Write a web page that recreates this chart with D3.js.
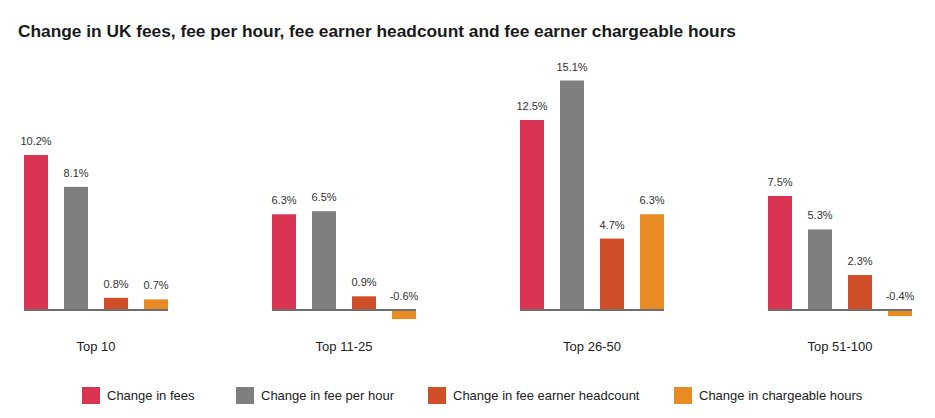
<!DOCTYPE html>
<html><head><meta charset="utf-8">
<script src="https://cdn.jsdelivr.net/npm/d3@7"></script>
<style>body{margin:0;background:#fff}svg{display:block;font-family:"Liberation Sans",Arial,sans-serif}</style>
</head><body><svg id="c" width="935" height="418"></svg>
<script>
const categories = ["Top 10", "Top 11-25", "Top 26-50", "Top 51-100"];
const seriesNames = ["Change in fees", "Change in fee per hour", "Change in fee earner headcount", "Change in chargeable hours"];
const fees = [10.2, 6.3, 12.5, 7.5];
const feePerHour = [8.1, 6.5, 15.1, 5.3];
const headcount = [0.8, 0.9, 4.7, 2.3];
const hours = [0.7, -0.6, 6.3, -0.4];
const colors = ["#D93452", "#7F7F7F", "#D04F28", "#E88B22"];
const series = [fees, feePerHour, headcount, hours];

const svg = d3.select("#c");
svg.append("text").attr("x", 18).attr("y", 37).attr("font-size", 17).attr("font-weight", "bold")
  .attr("fill", "#1a1a1a").attr("textLength", 718).attr("lengthAdjust", "spacingAndGlyphs")
  .text("Change in UK fees, fee per hour, fee earner headcount and fee earner chargeable hours");

const x0 = d3.scaleBand().domain(categories).range([24, 912]).paddingInner(104/248).paddingOuter(0);
const x1 = d3.scaleBand().domain(seriesNames).range([0, x0.bandwidth()]).paddingInner(0.4).paddingOuter(0);
const y = d3.scaleLinear().domain([0, 15.1]).range([310, 80.5]);

const g = svg.selectAll("g.grp").data(categories).join("g").attr("class", "grp")
  .attr("transform", d => `translate(${x0(d)},0)`);

g.each(function(cat, ci) {
  const gg = d3.select(this);
  const vals = seriesNames.map((s, si) => ({s, si, v: series[si][ci]}));
  gg.selectAll("rect").data(vals).join("rect")
    .attr("x", d => x1(d.s)).attr("width", x1.bandwidth())
    .attr("y", d => Math.min(y(d.v), y(0))).attr("height", d => Math.abs(y(d.v) - y(0)))
    .attr("fill", d => colors[d.si]);
  gg.append("line").attr("x1", 0).attr("x2", x0.bandwidth()).attr("y1", y(0)).attr("y2", y(0))
    .attr("stroke", "#6f6f6f").attr("stroke-width", 2);
  gg.selectAll("text.v").data(vals).join("text").attr("class", "v")
    .attr("x", d => x1(d.s) + x1.bandwidth()/2)
    .attr("y", d => (d.v >= 0 ? y(d.v) : y(0)) - 10)
    .attr("text-anchor", "middle").attr("font-size", 11).attr("fill", "#333")
    .text(d => d.v.toFixed(1) + "%");
  gg.append("text").attr("x", x0.bandwidth()/2).attr("y", 351).attr("text-anchor", "middle")
    .attr("font-size", 13).attr("fill", "#222").text(cat);
});

const legX = [82, 236, 428, 674];
const lg = svg.selectAll("g.leg").data(seriesNames).join("g").attr("class", "leg")
  .attr("transform", (d, i) => `translate(${legX[i]},387)`);
lg.append("rect").attr("width", 18).attr("height", 17).attr("fill", (d, i) => colors[i]);
lg.append("text").attr("x", 25).attr("y", 13).attr("font-size", 13).attr("fill", "#222").text(d => d);
</script></body></html>
